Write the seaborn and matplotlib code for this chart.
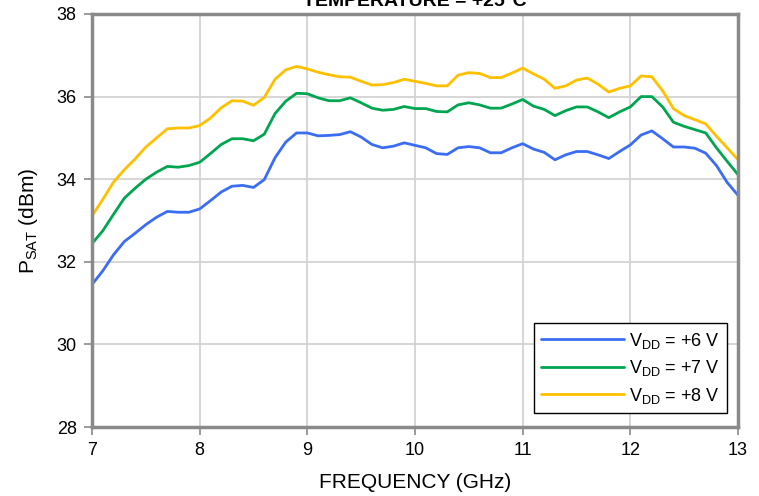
import numpy as np
import pandas as pd
import matplotlib
matplotlib.use("Agg")
import matplotlib.pyplot as plt
import seaborn as sns

# Frequency sweep, 7-13 GHz in 0.1 GHz steps
freq_ghz = [round(7.0 + 0.1 * i, 1) for i in range(61)]

psat_6v = [31.45, 31.78, 32.17, 32.49, 32.69, 32.90, 33.08, 33.22, 33.20, 33.20,
           33.28, 33.48, 33.69, 33.83, 33.85, 33.80, 33.99, 34.52, 34.90, 35.12,
           35.12, 35.05, 35.06, 35.08, 35.15, 35.02, 34.84, 34.76, 34.80, 34.88,
           34.82, 34.76, 34.62, 34.60, 34.76, 34.79, 34.76, 34.64, 34.64, 34.76,
           34.86, 34.73, 34.65, 34.47, 34.59, 34.67, 34.67, 34.59, 34.50, 34.67,
           34.83, 35.07, 35.17, 34.98, 34.78, 34.78, 34.75, 34.63, 34.33, 33.92,
           33.61]

psat_7v = [32.44, 32.75, 33.15, 33.54, 33.78, 34.00, 34.17, 34.31, 34.29, 34.33,
           34.41, 34.62, 34.84, 34.98, 34.98, 34.93, 35.09, 35.59, 35.89, 36.08,
           36.07, 35.97, 35.90, 35.90, 35.97, 35.85, 35.72, 35.67, 35.69, 35.76,
           35.71, 35.71, 35.64, 35.63, 35.80, 35.85, 35.80, 35.72, 35.72, 35.82,
           35.93, 35.77, 35.69, 35.54, 35.66, 35.75, 35.75, 35.63, 35.49, 35.63,
           35.75, 36.00, 36.00, 35.75, 35.38, 35.28, 35.20, 35.12, 34.76, 34.43,
           34.11]

psat_8v = [33.11, 33.51, 33.93, 34.23, 34.49, 34.78, 35.00, 35.22, 35.24, 35.24,
           35.30, 35.48, 35.73, 35.90, 35.89, 35.79, 35.98, 36.42, 36.65, 36.73,
           36.67, 36.59, 36.53, 36.48, 36.47, 36.37, 36.28, 36.29, 36.34, 36.42,
           36.37, 36.32, 36.26, 36.26, 36.52, 36.58, 36.56, 36.46, 36.46, 36.57,
           36.69, 36.55, 36.42, 36.20, 36.26, 36.40, 36.45, 36.30, 36.11, 36.20,
           36.26, 36.50, 36.48, 36.14, 35.71, 35.54, 35.44, 35.34, 35.04, 34.76,
           34.47]

series_labels = [r"V$_{\mathrm{DD}}$ = +6 V",
                 r"V$_{\mathrm{DD}}$ = +7 V",
                 r"V$_{\mathrm{DD}}$ = +8 V"]
series_colors = ["#3a6cf4", "#00a550", "#ffc000"]

x_ticks = [7, 8, 9, 10, 11, 12, 13]
y_ticks = [28, 30, 32, 34, 36, 38]

df = pd.concat([
    pd.DataFrame({"freq": freq_ghz, "psat": vals, "supply": lab})
    for vals, lab in zip([psat_6v, psat_7v, psat_8v], series_labels)
])

sns.set_theme(style="white")
plt.rcParams["font.family"] = ["Liberation Sans", "DejaVu Sans"]
plt.rcParams["mathtext.fontset"] = "custom"
plt.rcParams["mathtext.rm"] = "Liberation Sans"
plt.rcParams["text.color"] = "black"
plt.rcParams["axes.labelcolor"] = "black"

fig = plt.figure(figsize=(7.59, 4.96), dpi=100)
ax = fig.add_axes([92 / 759, 1 - 427 / 496, (738 - 92) / 759, (427 - 14) / 496])

sns.lineplot(data=df, x="freq", y="psat", hue="supply",
             palette=dict(zip(series_labels, series_colors)),
             linewidth=2.0, ax=ax, legend=True)

ax.set_xlim(7, 13)
ax.set_ylim(28, 38)
ax.set_xticks(x_ticks)
ax.set_yticks(y_ticks)
ax.set_xticklabels([str(t) for t in x_ticks])
ax.set_yticklabels([str(t) for t in y_ticks])

ax.grid(True, color="#d3d3d3", linewidth=1.3)
ax.set_axisbelow(True)
for side in ["left", "right", "top", "bottom"]:
    ax.spines[side].set_visible(True)
    ax.spines[side].set_color("#8a8a8a")
    ax.spines[side].set_linewidth(2.5)

ax.tick_params(axis="both", direction="out", length=6, width=1.2,
               color="#8a8a8a", labelsize=13, labelcolor="black",
               bottom=True, left=True, pad=5)

ax.set_xlabel("FREQUENCY (GHz)", fontsize=15, labelpad=10)
ax.set_ylabel(r"P$_{\mathrm{SAT}}$ (dBm)", fontsize=15, labelpad=12)

leg = ax.legend(loc="lower right", bbox_to_anchor=(0.983, 0.034),
                borderaxespad=0.0, fontsize=13, frameon=True, fancybox=False,
                handlelength=4.6, handletextpad=0.25, borderpad=0.4,
                labelspacing=0.42)
leg.get_frame().set_edgecolor("black")
leg.get_frame().set_linewidth(1.0)
leg.get_frame().set_alpha(1.0)
leg.set_title(None)

fig.text(ax.get_position().x0 + ax.get_position().width / 2, 1 - 1 / 496,
         "TEMPERATURE = +25°C", ha="center", va="center",
         fontsize=14, fontweight="bold")

fig.savefig("out.png", dpi=100)
